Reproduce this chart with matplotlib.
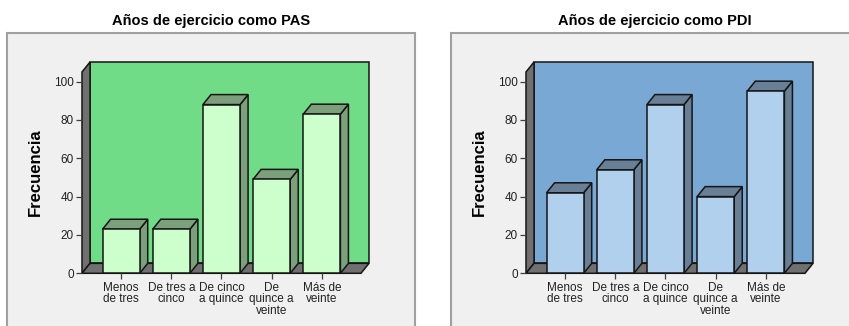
import matplotlib.pyplot as plt
import matplotlib.patches as patches

# Frequency tables
categorias = ["Menos\nde tres", "De tres a\ncinco", "De cinco\na quince",
              "De\nquince a\nveinte", "Más de\nveinte"]
frec_pas = [23, 23, 88, 49, 83]
frec_pdi = [42, 54, 88, 40, 95]
titulos = ["Años de ejercicio como PAS", "Años de ejercicio como PDI"]
yticks = [0, 20, 40, 60, 80, 100]

plt.rcParams['font.family'] = ['Liberation Sans', 'DejaVu Sans']

W, H = 849, 326
fig = plt.figure(figsize=(W / 100, H / 100), dpi=100)
fig.patch.set_facecolor('white')

# 3D look: depth offset in data units, extent of the walls
DX, DY = 0.16, 5.2
XMIN, XMAX = -0.78, 4.78
YTOP = 105
BAR_W = 0.74

estilos = [
    dict(wall='#70dc88', face='#ccffcc', side='#7c9f7c'),
    dict(wall='#7aa8d4', face='#b0d0ee', side='#687f96'),
]


def fx(px):
    return px / W


def fy(py):
    return 1 - py / H


def panel(x0, titulo, valores, est):
    # gray frame around the chart
    fig.patches.append(patches.Rectangle(
        (fx(x0 + 7), fy(335)), fx(408), fy(33) - fy(335),
        transform=fig.transFigure, facecolor='#f0f0f0',
        edgecolor='#a0a0a0', lw=1.5, zorder=-5))
    fig.text(fx(x0 + 211), fy(21), titulo, ha='center', va='center',
             fontsize=10.5, fontweight='bold')

    left, right, top, bottom = x0 + 82, x0 + 369, 62, 273.3
    ax = fig.add_axes([fx(left), fy(bottom), fx(right - left), fy(top) - fy(bottom)])
    ax.set_zorder(2)
    ax.set_xlim(XMIN, XMAX + DX)
    ax.set_ylim(0, YTOP + DY)
    ax.patch.set_visible(False)
    for s in ax.spines.values():
        s.set_visible(False)

    k = dict(edgecolor='#151515', lw=1.1, clip_on=False)
    # back wall, left wall and floor
    ax.add_patch(patches.Rectangle((XMIN + DX, DY), XMAX - XMIN, YTOP,
                                   facecolor=est['wall'], **k))
    ax.add_patch(patches.Polygon([(XMIN, 0), (XMIN + DX, DY), (XMIN + DX, YTOP + DY),
                                  (XMIN, YTOP)], facecolor='#707070', **k))
    ax.add_patch(patches.Polygon([(XMIN, 0), (XMAX, 0), (XMAX + DX, DY),
                                  (XMIN + DX, DY)], facecolor='#707070', **k))

    # bars: right side, top, front
    for i, v in enumerate(valores):
        a, b = i - BAR_W / 2, i + BAR_W / 2
        ax.add_patch(patches.Polygon([(b, 0), (b + DX, DY), (b + DX, v + DY), (b, v)],
                                     facecolor=est['side'], **k))
        ax.add_patch(patches.Polygon([(a, v), (b, v), (b + DX, v + DY), (a + DX, v + DY)],
                                     facecolor=est['side'], **k))
        ax.add_patch(patches.Rectangle((a, 0), BAR_W, v, facecolor=est['face'], **k))

    ax.set_xticks(range(len(categorias)))
    ax.set_xticklabels(categorias, fontsize=8.5, linespacing=0.95, color='#222222')
    ax.set_yticks(yticks)
    ax.set_yticklabels([str(t) for t in yticks], fontsize=8.5, color='#222222')
    ax.tick_params(axis='both', direction='out', length=4.5, width=0.9,
                   color='#404040', pad=1.5)
    fig.text(fx(x0 + 35), fy(172), 'Frecuencia', rotation=90, ha='center',
             va='center', fontsize=12, fontweight='bold')


panel(0, titulos[0], frec_pas, estilos[0])
panel(444, titulos[1], frec_pdi, estilos[1])

fig.savefig('out.png', dpi=100)
